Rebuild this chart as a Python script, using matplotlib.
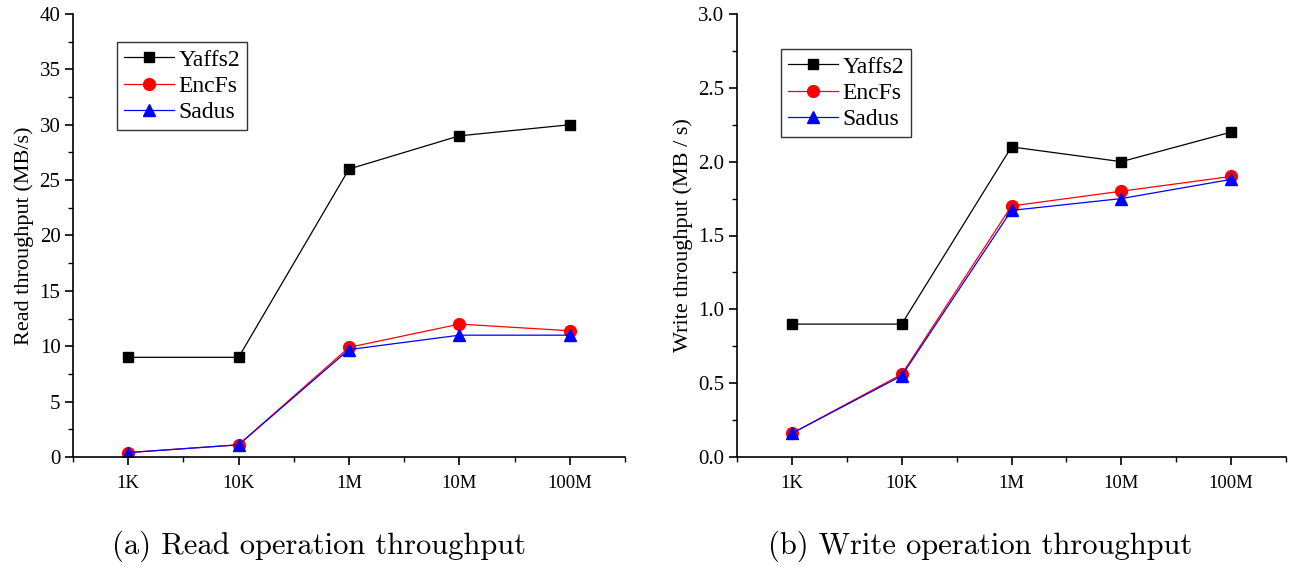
import matplotlib
matplotlib.use("Agg")
import matplotlib.pyplot as plt
from matplotlib.ticker import MultipleLocator

# Dane
sizes = ["1K", "10K", "1M", "10M", "100M"]
read_yaffs2 = [9, 9, 26, 29, 30]
read_encfs = [0.4, 1.1, 9.9, 12.0, 11.4]
read_sadus = [0.4, 1.1, 9.7, 11.0, 11.0]
write_yaffs2 = [0.9, 0.9, 2.1, 2.0, 2.2]
write_encfs = [0.16, 0.56, 1.70, 1.80, 1.90]
write_sadus = [0.16, 0.55, 1.67, 1.75, 1.88]

W, H = 1292, 566
fig = plt.figure(figsize=(W / 100, H / 100), dpi=100)

serif = ["Liberation Serif", "DejaVu Serif"]
plt.rcParams["font.family"] = serif


def box(x0, y0, x1, y1):
    return [x0 / W, 1 - y1 / H, (x1 - x0) / W, (y1 - y0) / H]


def draw(ax, yaffs, encfs, sadus, ylim, major, minor, ylabel, legend_anchor):
    x = list(range(len(sizes)))
    ax.plot(x, yaffs, color="black", lw=0.9, marker="s", ms=7.5, label="Yaffs2")
    ax.plot(x, encfs, color="red", lw=0.9, marker="o", ms=8.5, label="EncFs")
    ax.plot(x, sadus, color="blue", lw=0.9, marker="^", ms=8.5, label="Sadus")
    ax.set_xlim(-0.5, 4.5)
    ax.set_ylim(*ylim)
    ax.set_xticks(x)
    ax.set_xticklabels(sizes)
    ax.xaxis.set_minor_locator(MultipleLocator(0.5))
    ax.yaxis.set_major_locator(MultipleLocator(major))
    ax.yaxis.set_minor_locator(MultipleLocator(minor))
    ax.spines["top"].set_visible(False)
    ax.spines["right"].set_visible(False)
    for s in ("left", "bottom"):
        ax.spines[s].set_linewidth(1.2)
    ax.tick_params(which="major", direction="out", length=6, width=1.2)
    ax.tick_params(which="minor", direction="out", length=3.5, width=1.0)
    ax.tick_params(axis="x", which="major", labelsize=13.5, pad=7)
    ax.tick_params(axis="y", which="major", labelsize=15, pad=3)
    ax.set_ylabel(ylabel, fontsize=16, labelpad=4)
    leg = ax.legend(loc="upper left", bbox_to_anchor=legend_anchor, fontsize=17,
                    frameon=True, fancybox=False, edgecolor="black",
                    handlelength=2.1, handletextpad=0.2, borderpad=0.3,
                    labelspacing=0.2, borderaxespad=0)
    leg.get_frame().set_linewidth(1.0)


ax1 = fig.add_axes(box(73, 14, 625, 457))
draw(ax1, read_yaffs2, read_encfs, read_sadus, (0, 40), 5, 2.5,
     "Read throughput (MB/s)", ((117 - 73) / 552, (457 - 42) / 443))
ax1.set_yticklabels([f"{int(v)}" for v in ax1.get_yticks()])

ax2 = fig.add_axes(box(737, 14, 1286, 457))
draw(ax2, write_yaffs2, write_encfs, write_sadus, (0, 3.0), 0.5, 0.25,
     "Write throughput (MB / s)", ((781 - 737) / 549, (457 - 49) / 443))
ax2.set_yticklabels([f"{v:.1f}" for v in ax2.get_yticks()])

fig.text(319 / W, 1 - 546 / H, "(a) Read operation throughput",
         family="cmr10", fontsize=22, ha="center", va="center")
fig.text(980 / W, 1 - 546 / H, "(b) Write operation throughput",
         family="cmr10", fontsize=22, ha="center", va="center")

fig.savefig("out.png", dpi=100)
